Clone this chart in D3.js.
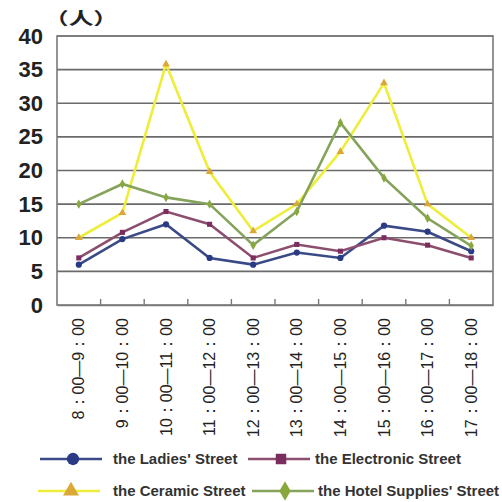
<!DOCTYPE html>
<html><head><meta charset="utf-8">
<script src="https://cdn.jsdelivr.net/npm/d3@7/dist/d3.min.js"></script>
<style>body{margin:0;background:#fff}svg{display:block}</style>
</head><body><svg id="c" width="502" height="502"></svg>
<script>
const categories = ["8：00—9：00","9：00—10：00","10：00—11：00","11：00—12：00","12：00—13：00","13：00—14：00","14：00—15：00","15：00—16：00","16：00—17：00","17：00—18：00"];
const ladies = [6, 9.8, 12, 7, 6, 7.8, 7, 11.8, 10.9, 8];
const electronic = [7, 10.8, 13.9, 12, 7, 9, 8, 10, 8.9, 7];
const ceramic = [10, 13.7, 35.8, 19.8, 11, 15, 22.8, 33, 15, 10];
const hotel = [15, 18, 16, 15, 8.9, 13.9, 27.1, 18.9, 12.9, 8.8];
const yTicks = [0, 5, 10, 15, 20, 25, 30, 35, 40];
const seriesNames = ["the Ladies' Street","the Electronic Street","the Ceramic Street","the Hotel Supplies' Street"];

const series = [
  {name: seriesNames[0], values: ladies, line: "#3a4a86", mark: "#2b3a85", shape: d3.symbolCircle, size: 30},
  {name: seriesNames[1], values: electronic, line: "#8c4e6e", mark: "#7a2d5e", shape: d3.symbolSquare, size: 26},
  {name: seriesNames[2], values: ceramic, line: "#eeee3a", mark: "#dba838", shape: d3.symbolTriangle, size: 26},
  {name: seriesNames[3], values: hotel, line: "#85a35a", mark: "#88a83e", shape: d3.symbolDiamond, size: 26}
];

const svg = d3.select("#c");
const L = 57, R = 493, T = 36, B = 305;
const x = d3.scaleBand().domain(categories).range([L, R]);
const y = d3.scaleLinear().domain([0, 40]).range([B, T]);

// gridlines
svg.append("g").selectAll("line").data(yTicks.filter(d => d > 0)).join("line")
  .attr("x1", L).attr("x2", R).attr("y1", d => y(d)).attr("y2", d => y(d))
  .attr("stroke", "#6a6a6a").attr("stroke-width", 1.6);
// frame
svg.append("rect").attr("x", L).attr("y", T).attr("width", R - L).attr("height", B - T)
  .attr("fill", "none").attr("stroke", "#7a7a7a").attr("stroke-width", 1.6);

// y axis labels
const yAxis = svg.append("g").attr("transform", `translate(${L},0)`)
  .call(d3.axisLeft(y).tickValues(yTicks).tickSize(0).tickPadding(14));
yAxis.select(".domain").remove();
yAxis.selectAll("text").attr("font-family", "Liberation Sans, Arial, sans-serif")
  .attr("font-size", 22).attr("font-weight", "bold").attr("fill", "#222");

svg.append("text").attr("transform", "translate(44,25) scale(1.45,1)").text("（人）")
  .attr("font-family", "Noto Sans CJK SC, sans-serif").attr("font-size", 17).attr("font-weight", "bold").attr("fill", "#222");

// x axis
const xAxis = svg.append("g").attr("transform", `translate(0,${B})`)
  .call(d3.axisBottom(x).tickSize(0).tickPadding(0));
xAxis.select(".domain").attr("stroke", "#7a7a7a").attr("stroke-width", 1.6);
// boundary ticks
svg.append("g").selectAll("line").data(categories.slice(1)).join("line")
  .attr("x1", d => x(d)).attr("x2", d => x(d)).attr("y1", B).attr("y2", B - 6)
  .attr("stroke", "#7a7a7a").attr("stroke-width", 1.4);
xAxis.selectAll("text")
  .attr("transform", "rotate(-90)")
  .attr("x", -13).attr("y", 0).attr("dy", "0.35em")
  .attr("text-anchor", "end")
  .attr("font-family", "Liberation Sans, Arial, sans-serif").attr("font-size", 16).attr("fill", "#222");

const cx = d => x(d) + x.bandwidth() / 2;
const line = d3.line().x(d => cx(d[0])).y(d => y(d[1]));

series.forEach(s => {
  const pts = categories.map((c, i) => [c, s.values[i]]);
  svg.append("path").datum(pts).attr("d", line).attr("fill", "none")
    .attr("stroke", s.line).attr("stroke-width", 2.6);
  svg.append("g").selectAll("path").data(pts).join("path")
    .attr("d", d3.symbol().type(s.shape).size(s.size))
    .attr("transform", d => `translate(${cx(d[0])},${y(d[1])})`)
    .attr("fill", s.mark);
});

// legend
const legendPos = [[40, 459], [248, 459], [38, 491], [252, 491]];
const textX = [73, 67, 75, 66];
const lg = svg.append("g");
series.forEach((s, i) => {
  const [lx, ly] = legendPos[i];
  const g = lg.append("g").attr("transform", `translate(${lx},${ly})`);
  g.append("line").attr("x1", 0).attr("x2", 62).attr("y1", 0).attr("y2", 0)
    .attr("stroke", s.line).attr("stroke-width", 2.6);
  g.append("path").attr("d", d3.symbol().type(s.shape).size(i === 0 ? 120 : 110))
    .attr("transform", "translate(33,0)").attr("fill", s.mark);
  g.append("text").attr("x", textX[i]).attr("y", 0).attr("dy", "0.35em")
    .text(s.name).attr("font-family", "Liberation Sans, Arial, sans-serif")
    .attr("font-size", 15).attr("font-weight", "bold").attr("fill", "#333");
});
</script></body></html>
